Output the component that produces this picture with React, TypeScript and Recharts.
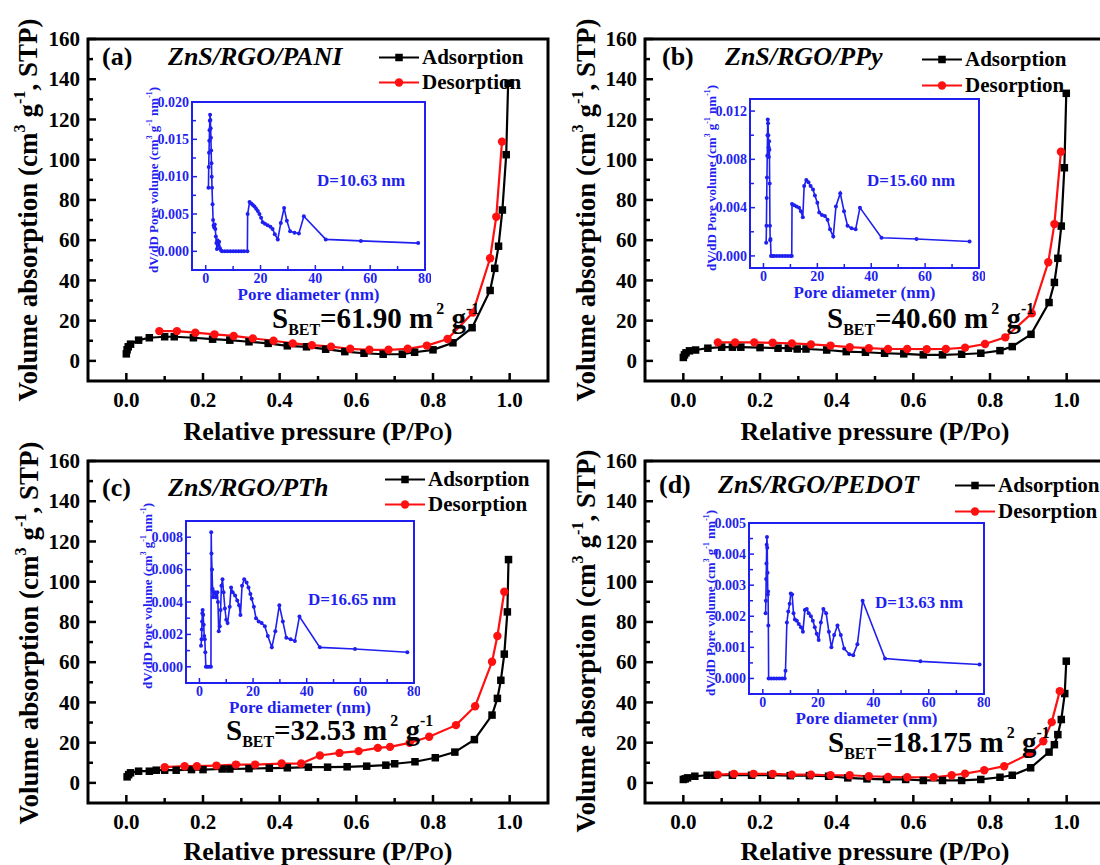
import React from "react";
import { Line, LineChart, ReferenceArea, XAxis, YAxis } from "recharts";

type Pt = [number, number];

const SERIF = '"Liberation Serif", "Times New Roman", Times, serif';
const INK = "#000000";
const RED = "#ff1010";
const BLUE = "#1f1ff0";

// main isotherm axes
const pressureTicks = [0, 0.1, 0.2, 0.3, 0.4, 0.5, 0.6, 0.7, 0.8, 0.9, 1.0];
const pressureLabels = [0, 0.2, 0.4, 0.6, 0.8, 1.0];
const volumeTicks = [0, 10, 20, 30, 40, 50, 60, 70, 80, 90, 100, 110, 120, 130, 140, 150, 160];
const volumeLabels = [0, 20, 40, 60, 80, 100, 120, 140, 160];

// inset (pore size distribution) axes
const diameterTicks = [0, 10, 20, 30, 40, 50, 60, 70, 80];
const diameterLabels = [0, 20, 40, 60, 80];

// (a) ZnS/RGO/PANI
const adsPani: Pt[] = [
  [0, 3.5], [0.002, 5.5], [0.005, 7], [0.011, 8.3], [0.032, 10.3], [0.06, 11.5], [0.1, 12], [0.125, 12],
  [0.175, 11.5], [0.225, 10.8], [0.27, 10.3], [0.32, 9.5], [0.37, 8.7], [0.42, 7.5], [0.47, 7], [0.52, 5.8],
  [0.57, 4.6], [0.62, 3.8], [0.67, 3.3], [0.72, 3.3], [0.752, 4.3], [0.8, 5.5], [0.852, 9], [0.902, 16.5],
  [0.949, 35], [0.961, 46], [0.971, 57], [0.981, 75], [0.991, 102.5], [0.996, 138],
];
const desPani: Pt[] = [
  [0.086, 14.8], [0.132, 14.8], [0.18, 14], [0.23, 13.2], [0.28, 12.4], [0.33, 11.2], [0.384, 10], [0.434, 8.7],
  [0.484, 7.8], [0.534, 7.1], [0.584, 6], [0.634, 5.5], [0.684, 5.5], [0.734, 6], [0.784, 7.6], [0.838, 10.9],
  [0.904, 24], [0.949, 51], [0.965, 71.6], [0.98, 109],
];
const psdPani: Pt[] = [
  [1.0, 0.0085], [1.1, 0.0113], [1.2, 0.0132], [1.3, 0.0148], [1.4, 0.0162], [1.5, 0.0175], [1.6, 0.0183],
  [1.7, 0.0176], [1.8, 0.0165], [1.9, 0.0152], [2.0, 0.0135], [2.1, 0.0118], [2.2, 0.01], [2.3, 0.0085],
  [2.5, 0.0063], [2.7, 0.0042], [2.9, 0.0035], [3.1, 0.0032], [3.3, 0.0036], [3.5, 0.003], [3.7, 0.002],
  [3.9, 0.0011], [4.1, 0.0003], [4.3, 0.0015], [4.6, 0.0008], [4.9, 0.0013], [5.2, 0.0004], [5.6, 0.0001],
  [6, 0], [7, 0], [8, 0], [9, 0], [10, 0], [11, 0], [12, 0], [13, 0], [14, 0], [15.2, 0], [15.3, 0.005],
  [16.0, 0.0066], [16.6, 0.0064], [17.2, 0.0062], [17.8, 0.006], [18.4, 0.0057], [19.0, 0.0054], [19.6, 0.005],
  [20.2, 0.0045], [20.8, 0.0039], [21.6, 0.0037], [22.6, 0.0035], [23.6, 0.0033], [24.4, 0.003], [25.2, 0.0023],
  [26.3, 0.0016], [27.4, 0.0038], [28.6, 0.0058], [29.6, 0.0041], [30.8, 0.0027], [32.4, 0.0025], [34.0, 0.0024],
  [35.8, 0.0047], [43.8, 0.0016], [56.6, 0.0014], [77.5, 0.0011],
];
const psdTicksPani = [0, 0.0025, 0.005, 0.0075, 0.01, 0.0125, 0.015, 0.0175, 0.02];
const psdLabelsPani = [0, 0.005, 0.01, 0.015, 0.02];

// (b) ZnS/RGO/PPy
const adsPpy: Pt[] = [
  [0, 1.7], [0.003, 3], [0.007, 4], [0.016, 5], [0.032, 5.4], [0.064, 6.3], [0.1, 6.8], [0.128, 6.8], [0.15, 6.8],
  [0.2, 6.6], [0.247, 6.3], [0.274, 6.3], [0.297, 5.9], [0.32, 5.9], [0.374, 5.4], [0.425, 4.6], [0.475, 4.3],
  [0.525, 3.8], [0.575, 3.5], [0.626, 3], [0.676, 3], [0.726, 3.3], [0.776, 3.8], [0.826, 5.1], [0.858, 7.1],
  [0.907, 13.2], [0.954, 29], [0.968, 39], [0.977, 51], [0.986, 67], [0.994, 96], [0.999, 133],
];
const desPpy: Pt[] = [
  [0.09, 9.2], [0.135, 9.2], [0.185, 9.2], [0.233, 9], [0.283, 8.7], [0.333, 8.2], [0.384, 7.6], [0.434, 6.8],
  [0.484, 6.3], [0.534, 5.9], [0.584, 5.9], [0.635, 5.8], [0.685, 5.9], [0.735, 6.6], [0.787, 8.4], [0.84, 11.7],
  [0.909, 23.6], [0.952, 49], [0.968, 68], [0.985, 104],
];
const psdPpy: Pt[] = [
  [1.0, 0.0011], [1.1, 0.0025], [1.2, 0.0048], [1.3, 0.0065], [1.4, 0.0083], [1.5, 0.01], [1.6, 0.0113],
  [1.7, 0.011], [1.8, 0.01], [1.9, 0.009], [2.0, 0.0082], [2.1, 0.0095], [2.2, 0.0088], [2.3, 0.006],
  [2.4, 0.0025], [2.5, 0.0013], [2.6, 0.0014], [2.8, 0], [3.5, 0], [4, 0], [5, 0], [6, 0], [7, 0], [8, 0],
  [9, 0], [10, 0], [10.5, 0], [10.6, 0.0043], [11.4, 0.0042], [12.3, 0.0041], [13.2, 0.004], [13.9, 0.0037],
  [14.6, 0.0032], [15.1, 0.0058], [15.9, 0.0063], [16.7, 0.0061], [17.5, 0.0058], [18.4, 0.0055], [19.1, 0.005],
  [20.0, 0.0044], [20.7, 0.0036], [21.7, 0.0034], [22.8, 0.0033], [23.8, 0.003], [24.7, 0.0022], [25.9, 0.0016],
  [26.9, 0.0041], [28.5, 0.0052], [29.9, 0.0037], [31.2, 0.0025], [32.7, 0.0023], [34.2, 0.0022], [35.8, 0.004],
  [43.8, 0.0015], [56.8, 0.0014], [76.5, 0.0012],
];
const psdTicksPpy = [0, 0.002, 0.004, 0.006, 0.008, 0.01, 0.012];
const psdLabelsPpy = [0, 0.004, 0.008, 0.012];

// (c) ZnS/RGO/PTh
const adsPth: Pt[] = [
  [0.002, 3], [0.006, 4.1], [0.011, 5], [0.032, 5.8], [0.06, 5.8], [0.078, 6.3], [0.1, 6.3], [0.13, 6.3],
  [0.17, 6.6], [0.2, 6.6], [0.25, 6.9], [0.27, 6.9], [0.32, 7.1], [0.373, 7.3], [0.42, 7.5], [0.475, 7.8],
  [0.525, 7.8], [0.576, 8], [0.627, 8.3], [0.677, 8.8], [0.7, 9.5], [0.753, 10.5], [0.806, 12.5], [0.857, 15.3],
  [0.908, 21.5], [0.954, 33.7], [0.968, 42], [0.977, 51], [0.986, 64], [0.994, 85], [0.997, 111],
];
const desPth: Pt[] = [
  [0.1, 7.8], [0.152, 8.3], [0.184, 8.3], [0.235, 8.6], [0.286, 9.1], [0.336, 9.1], [0.405, 9.6], [0.456, 9.6],
  [0.505, 13.6], [0.556, 14.9], [0.606, 15.8], [0.656, 17.4], [0.688, 17.9], [0.739, 19.9], [0.79, 22.9],
  [0.86, 28.7], [0.91, 38.1], [0.954, 60.2], [0.968, 73], [0.986, 95],
];
const psdPth: Pt[] = [
  [0.6, 0.0013], [0.8, 0.0017], [0.9, 0.0023], [1.0, 0.0028], [1.1, 0.0033], [1.2, 0.0035], [1.4, 0.0032],
  [1.6, 0.0026], [1.8, 0.0019], [2.0, 0.0017], [2.2, 0.0009], [2.4, 0], [3.0, 0], [3.6, 0], [4.3, 0],
  [4.4, 0.0083], [4.5, 0.007], [4.7, 0.006], [4.9, 0.0048], [5.1, 0.0043], [5.7, 0.0046], [6.2, 0.0043],
  [6.7, 0.0046], [6.9, 0.004], [7.2, 0.0022], [7.6, 0.0025], [7.9, 0.0035], [8.2, 0.005], [8.6, 0.0054],
  [9.0, 0.0046], [9.5, 0.0036], [10.0, 0.0029], [10.5, 0.0027], [11.3, 0.0037], [11.8, 0.0049], [12.4, 0.0046],
  [13.3, 0.0044], [14.1, 0.0041], [14.8, 0.0038], [15.3, 0.0032], [15.9, 0.005], [16.7, 0.0054], [17.6, 0.0052],
  [18.3, 0.0049], [19.0, 0.0045], [19.5, 0.0042], [20.3, 0.0037], [21.1, 0.003], [22.1, 0.0028], [23.2, 0.0027],
  [24.4, 0.0025], [25.5, 0.0019], [27.0, 0.0012], [28.3, 0.0022], [29.8, 0.0038], [31.1, 0.0028], [32.4, 0.0018],
  [34.0, 0.0017], [35.6, 0.0016], [37.3, 0.0031], [44.9, 0.0012], [58.0, 0.0011], [77.5, 0.0009],
];
const psdTicksPth = [0, 0.001, 0.002, 0.003, 0.004, 0.005, 0.006, 0.007, 0.008];
const psdLabelsPth = [0, 0.002, 0.004, 0.006, 0.008];

// (d) ZnS/RGO/PEDOT
const adsPedot: Pt[] = [
  [0, 1.7], [0.005, 2], [0.011, 2.5], [0.03, 3.3], [0.062, 3.8], [0.082, 3.8], [0.128, 3.8], [0.178, 3.8],
  [0.228, 3.8], [0.279, 3.6], [0.329, 3.6], [0.379, 3.3], [0.429, 2.5], [0.479, 2], [0.53, 1.7], [0.58, 1.7],
  [0.626, 1.2], [0.676, 1.2], [0.726, 1.2], [0.776, 1.7], [0.826, 2.8], [0.858, 3.8], [0.906, 7.5], [0.954, 15.3],
  [0.968, 19], [0.977, 24], [0.986, 31.5], [0.995, 44.4], [0.999, 60.5],
];
const desPedot: Pt[] = [
  [0.09, 4.1], [0.132, 4.5], [0.183, 4.5], [0.233, 4.5], [0.283, 4.1], [0.333, 4.1], [0.384, 3.8], [0.434, 3.8],
  [0.484, 3.3], [0.534, 3], [0.584, 2.8], [0.653, 2.8], [0.7, 3.8], [0.735, 4.6], [0.785, 6.3], [0.837, 8.3],
  [0.904, 14.6], [0.939, 20.7], [0.961, 30.2], [0.982, 45.6],
];
const psdPedot: Pt[] = [
  [1.0, 0.0021], [1.1, 0.0025], [1.2, 0.0032], [1.3, 0.0037], [1.4, 0.0043], [1.5, 0.00455], [1.6, 0.0042],
  [1.7, 0.0034], [1.8, 0.0027], [1.9, 0.0028], [2.0, 0.0017], [2.1, 0], [3, 0], [4, 0], [5, 0], [6, 0], [7, 0],
  [7.9, 0], [8.2, 0.00025], [8.7, 0.0018], [9.2, 0.00215], [9.7, 0.0024], [10.1, 0.00273], [10.6, 0.0027],
  [11.1, 0.0021], [11.6, 0.0019], [12.3, 0.00186], [13.0, 0.00175], [13.8, 0.00165], [14.5, 0.0015],
  [15.2, 0.0022], [15.9, 0.00223], [16.6, 0.0021], [17.4, 0.002], [18.1, 0.00186], [18.8, 0.00165],
  [19.5, 0.00144], [20.2, 0.00124], [21.0, 0.0018], [21.9, 0.00223], [22.9, 0.0021], [23.9, 0.0015], [24.8, 0.001],
  [25.8, 0.0014], [27.0, 0.0017], [28.2, 0.0014], [29.4, 0.00096], [31.3, 0.00078], [32.7, 0.00075],
  [34.2, 0.0011], [36.1, 0.0025], [44.2, 0.00064], [57.0, 0.00055], [78.4, 0.00045],
];
const psdTicksPedot = [0, 0.0005, 0.001, 0.0015, 0.002, 0.0025, 0.003, 0.0035, 0.004, 0.0045, 0.005];
const psdLabelsPedot = [0, 0.001, 0.002, 0.003, 0.004, 0.005];

type Panel = {
  tag: string;
  name: string;
  sbet: string;
  dLabel: string;
  ads: Pt[];
  des: Pt[];
  psd: Pt[];
  psdDomain: [number, number];
  psdTicks: number[];
  psdLabels: number[];
  box: [number, number];
  tagAt: [number, number];
  nameAt: [number, number];
  legendAt: [number, number, number];
  sbetAt: [number, number];
  yTitleAt: [number, number];
  xTitleAt: [number, number];
  inset: { x: number; y: number; w: number; h: number };
  dAt: [number, number];
};

const panels: Panel[] = [
  {
    tag: "(a)", name: "ZnS/RGO/PANI", sbet: "61.90", dLabel: "D=10.63 nm",
    ads: adsPani, des: desPani, psd: psdPani,
    psdDomain: [-0.0025, 0.02], psdTicks: psdTicksPani, psdLabels: psdLabelsPani,
    box: [88, 39], tagAt: [102, 57], nameAt: [168, 57], legendAt: [379, 57, 82],
    sbetAt: [272, 318], yTitleAt: [28, 210], xTitleAt: [318, 432],
    inset: { x: 192, y: 102, w: 233, h: 168 }, dAt: [317, 180],
  },
  {
    tag: "(b)", name: "ZnS/RGO/PPy", sbet: "40.60", dLabel: "D=15.60 nm",
    ads: adsPpy, des: desPpy, psd: psdPpy,
    psdDomain: [-0.001, 0.013], psdTicks: psdTicksPpy, psdLabels: psdLabelsPpy,
    box: [645, 39], tagAt: [662, 57], nameAt: [725, 57], legendAt: [922, 59, 85],
    sbetAt: [827, 318], yTitleAt: [586, 210], xTitleAt: [875, 432],
    inset: { x: 750, y: 99, w: 229, h: 169 }, dAt: [867, 180],
  },
  {
    tag: "(c)", name: "ZnS/RGO/PTh", sbet: "32.53", dLabel: "D=16.65 nm",
    ads: adsPth, des: desPth, psd: psdPth,
    psdDomain: [-0.001, 0.009], psdTicks: psdTicksPth, psdLabels: psdLabelsPth,
    box: [88, 461], tagAt: [102, 488], nameAt: [168, 488], legendAt: [385, 479, 504],
    sbetAt: [226, 730], yTitleAt: [29, 633], xTitleAt: [318, 852],
    inset: { x: 186, y: 521, w: 228, h: 162 }, dAt: [308, 599],
  },
  {
    tag: "(d)", name: "ZnS/RGO/PEDOT", sbet: "18.175", dLabel: "D=13.63 nm",
    ads: adsPedot, des: desPedot, psd: psdPedot,
    psdDomain: [-0.0005, 0.005], psdTicks: psdTicksPedot, psdLabels: psdLabelsPedot,
    box: [645, 461], tagAt: [659, 485], nameAt: [718, 485], legendAt: [955, 485, 511],
    sbetAt: [828, 742], yTitleAt: [586, 641], xTitleAt: [875, 852],
    inset: { x: 749, y: 523, w: 235, h: 171 }, dAt: [875, 602],
  },
];

const rows = (pts: Pt[]) => pts.map(([x, y]) => ({ x, y }));
const isIn = (list: number[], v: number) => list.some((m) => Math.abs(m - v) < 1e-9);

// ticks point inward (Origin style); labels only on major ticks
function yTick(labels: number[], fmt: (v: number) => string, color: string, fontSize: number, major: number, minor: number, sw: number, gap: number) {
  return function YTick(props: any) {
    const { x, y, payload } = props;
    const v = payload.value as number;
    const isMajor = isIn(labels, v);
    return (
      <g>
        <line x1={x} x2={x + (isMajor ? major : minor)} y1={y} y2={y} stroke={color} strokeWidth={sw} />
        {isMajor && (
          <text x={x - gap} y={y} dy="0.34em" textAnchor="end" fill={color} fontFamily={SERIF} fontWeight="bold" fontSize={fontSize}>
            {fmt(v)}
          </text>
        )}
      </g>
    );
  };
}

function xTick(labels: number[], fmt: (v: number) => string, color: string, fontSize: number, major: number, minor: number, sw: number, gap: number) {
  return function XTick(props: any) {
    const { x, y, payload } = props;
    const v = payload.value as number;
    const isMajor = isIn(labels, v);
    return (
      <g>
        <line x1={x} x2={x} y1={y} y2={y - (isMajor ? major : minor)} stroke={color} strokeWidth={sw} />
        {isMajor && (
          <text x={x} y={y + gap} dy="0.7em" textAnchor="middle" fill={color} fontFamily={SERIF} fontWeight="bold" fontSize={fontSize}>
            {fmt(v)}
          </text>
        )}
      </g>
    );
  };
}

const squareDot = (p: any) => <rect key={`sq${p.index}`} x={p.cx - 3.75} y={p.cy - 3.75} width={7.5} height={7.5} fill={INK} />;
const circleDot = (p: any) => <circle key={`ci${p.index}`} cx={p.cx} cy={p.cy} r={4.2} fill={RED} />;
const blueDot = (p: any) => <circle key={`bd${p.index}`} cx={p.cx} cy={p.cy} r={2} fill={BLUE} />;

function Isotherm({ p }: { p: Panel }) {
  const W = 460, H = 342, YW = 88, MT = 22, MR = 12, XH = 34;
  return (
    <div style={{ position: "absolute", left: p.box[0] - YW, top: p.box[1] - MT }}>
      <LineChart width={YW + W + MR} height={MT + H + XH} margin={{ top: MT, right: MR, bottom: 0, left: 0 }}>
        <XAxis
          type="number"
          dataKey="x"
          domain={[-0.1, 1.1]}
          allowDataOverflow
          ticks={pressureTicks}
          interval={0}
          height={XH}
          axisLine={false}
          tickLine={false}
          tickSize={0}
          tickMargin={0}
          tick={xTick(pressureLabels, (v) => v.toFixed(1), INK, 21, 8, 5, 2.5, 11)}
        />
        <YAxis
          type="number"
          domain={[-10, 160]}
          allowDataOverflow
          ticks={volumeTicks}
          interval={0}
          width={YW}
          axisLine={false}
          tickLine={false}
          tickSize={0}
          tickMargin={0}
          tick={yTick(volumeLabels, (v) => String(v), INK, 21, 8, 5, 2.5, 8)}
        />
        <ReferenceArea x1={-0.1} x2={1.1} y1={-10} y2={160} fill="none" fillOpacity={0} stroke={INK} strokeWidth={3} ifOverflow="visible" />
        <Line data={rows(p.ads)} dataKey="y" type="linear" stroke={INK} strokeWidth={2.2} dot={squareDot} activeDot={false} isAnimationActive={false} />
        <Line data={rows(p.des)} dataKey="y" type="linear" stroke={RED} strokeWidth={2.2} dot={circleDot} activeDot={false} isAnimationActive={false} />
      </LineChart>
    </div>
  );
}

function PoreInset({ p }: { p: Panel }) {
  const { x, y, w, h } = p.inset;
  const IYW = 50, MT = 12, MR = 6, XH = 24;
  return (
    <>
      <div style={{ position: "absolute", left: x - IYW, top: y - MT }}>
        <LineChart width={IYW + w + MR} height={MT + h + XH} margin={{ top: MT, right: MR, bottom: 0, left: 0 }}>
          <XAxis
            type="number"
            dataKey="x"
            domain={[-5, 80]}
            allowDataOverflow
            ticks={diameterTicks}
            interval={0}
            height={XH}
            axisLine={false}
            tickLine={false}
            tickSize={0}
            tickMargin={0}
            tick={xTick(diameterLabels, (v) => String(v), BLUE, 14, 5, 4, 1.5, 3)}
          />
          <YAxis
            type="number"
            domain={p.psdDomain}
            allowDataOverflow
            ticks={p.psdTicks}
            interval={0}
            width={IYW}
            axisLine={false}
            tickLine={false}
            tickSize={0}
            tickMargin={0}
            tick={yTick(p.psdLabels, (v) => v.toFixed(3), BLUE, 14, 5, 4, 1.5, 3)}
          />
          <ReferenceArea x1={-5} x2={80} y1={p.psdDomain[0]} y2={p.psdDomain[1]} fill="none" fillOpacity={0} stroke={BLUE} strokeWidth={2} ifOverflow="visible" />
          <Line data={rows(p.psd)} dataKey="y" type="linear" stroke={BLUE} strokeWidth={1.6} dot={blueDot} activeDot={false} isAnimationActive={false} />
        </LineChart>
      </div>
      <div
        style={{
          position: "absolute", left: x - 39, top: y + h / 2 - 6,
          transform: "translate(-50%, -50%) rotate(-90deg)",
          whiteSpace: "nowrap", font: `bold 13px ${SERIF}`, color: BLUE, lineHeight: 1,
        }}
      >
        dV/dD Pore volume (cm<sup style={supStyle}>3</sup> g<sup style={supStyle}>-1</sup> nm<sup style={supStyle}>-1</sup>)
      </div>
      <div
        style={{
          position: "absolute", left: x + w / 2, top: y + h + 24,
          transform: "translate(-50%, -50%)", whiteSpace: "nowrap",
          font: `bold 17px ${SERIF}`, color: BLUE, lineHeight: 1,
        }}
      >
        Pore diameter (nm)
      </div>
      <div
        style={{
          position: "absolute", left: p.dAt[0], top: p.dAt[1], transform: "translateY(-50%)",
          whiteSpace: "nowrap", font: `bold 17px ${SERIF}`, color: BLUE, lineHeight: 1,
        }}
      >
        {p.dLabel}
      </div>
    </>
  );
}

const supStyle: React.CSSProperties = { fontSize: "0.6em", verticalAlign: "0.7em", lineHeight: 0 };

function LegendRow({ x, y, color, square, label }: { x: number; y: number; color: string; square: boolean; label: string }) {
  return (
    <div
      style={{
        position: "absolute", left: x, top: y, transform: "translateY(-50%)",
        display: "flex", alignItems: "center", whiteSpace: "nowrap",
        font: `bold 21px ${SERIF}`, lineHeight: 1,
      }}
    >
      <svg width={40} height={12} style={{ display: "block" }}>
        <line x1={0} x2={40} y1={6} y2={6} stroke={color} strokeWidth={2.2} />
        {square ? <rect x={16.25} y={2.25} width={7.5} height={7.5} fill={color} /> : <circle cx={20} cy={6} r={4.2} fill={color} />}
      </svg>
      <span style={{ marginLeft: 3 }}>{label}</span>
    </div>
  );
}

function Annotations({ p }: { p: Panel }) {
  const abs = (l: number, t: number): React.CSSProperties => ({
    position: "absolute", left: l, top: t, transform: "translateY(-50%)", whiteSpace: "nowrap", lineHeight: 1,
  });
  return (
    <>
      <div style={{ ...abs(p.tagAt[0], p.tagAt[1]), font: `bold 26px ${SERIF}` }}>{p.tag}</div>
      <div style={{ ...abs(p.nameAt[0], p.nameAt[1]), font: `italic bold 26px ${SERIF}` }}>{p.name}</div>
      <LegendRow x={p.legendAt[0]} y={p.legendAt[1]} color={INK} square label="Adsorption" />
      <LegendRow x={p.legendAt[0]} y={p.legendAt[2]} color={RED} square={false} label="Desorption" />
      <div style={{ ...abs(p.sbetAt[0], p.sbetAt[1]), font: `bold 29px ${SERIF}` }}>
        S<sub style={{ fontSize: "0.55em", verticalAlign: "-0.45em", lineHeight: 0 }}>BET</sub>={p.sbet} m
        <sup style={{ fontSize: "0.55em", verticalAlign: "0.85em", lineHeight: 0, marginLeft: 3 }}>2</sup> g
        <sup style={{ fontSize: "0.55em", verticalAlign: "0.85em", lineHeight: 0 }}>-1</sup>
      </div>
      <div
        style={{
          position: "absolute", left: p.yTitleAt[0], top: p.yTitleAt[1],
          transform: "translate(-50%, -50%) rotate(-90deg)", whiteSpace: "nowrap",
          font: `bold 27px ${SERIF}`, lineHeight: 1,
        }}
      >
        Volume absorption (cm<sup style={supStyle}>3</sup> g<sup style={supStyle}>-1</sup>, STP)
      </div>
      <div
        style={{
          position: "absolute", left: p.xTitleAt[0], top: p.xTitleAt[1],
          transform: "translate(-50%, -50%)", whiteSpace: "nowrap",
          font: `bold 26px ${SERIF}`, lineHeight: 1,
        }}
      >
        Relative pressure (P/P<span style={{ fontSize: "0.7em" }}>O</span>)
      </div>
    </>
  );
}

export default function App() {
  return (
    <div style={{ position: "fixed", left: 0, top: 0, width: 1100, height: 865, overflow: "hidden", background: "#fff", color: INK }}>
      {panels.map((p) => (
        <React.Fragment key={p.tag}>
          <Isotherm p={p} />
          <PoreInset p={p} />
          <Annotations p={p} />
        </React.Fragment>
      ))}
    </div>
  );
}
